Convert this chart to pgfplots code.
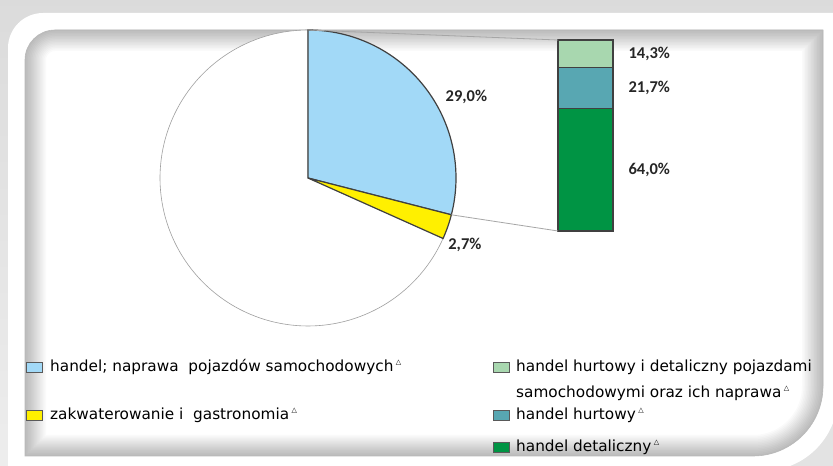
\documentclass[border=0pt]{standalone}
\usepackage{pgfplots}
\pgfplotsset{compat=1.18}
\usepackage{fontspec}
\setmainfont{Carlito}
\newfontfamily\legfont{DejaVu Sans}
\definecolor{pieblue}{HTML}{A2D9F7}
\definecolor{pieyel}{HTML}{FFF000}
\definecolor{lgreen}{HTML}{A8D7AF}
\definecolor{teal2}{HTML}{58A7B2}
\definecolor{dgreen}{HTML}{009444}
\definecolor{lblcol}{HTML}{262626}
% data (percent)
\def\vBlue{29.0}
\def\vYel{2.7}
\def\vLG{14.3}
\def\vTeal{21.7}
\def\vDG{64.0}
\pgfmathsetmacro\bang{\vBlue*3.6}
\pgfmathsetmacro\yang{(\vBlue+\vYel)*3.6}
\newcommand{\tri}{\raisebox{0.8ex}{\fontsize{7}{7}\selectfont\legfont △}}
\newcommand{\legbox}[3]{\fill[#1,draw=black!65,line width=0.7pt] (#2pt,#3pt) rectangle ++(16pt,10pt);}
\newcommand{\panel}{(25pt,10pt) -- (25pt,406pt) arc[start angle=180,end angle=90,radius=30pt] -- (823pt,436pt) -- (823pt,80pt) arc[start angle=0,end angle=-90,radius=70pt] -- cycle}
\begin{document}
\begin{tikzpicture}
\useasboundingbox (0,0) rectangle (833pt,466pt);
% background and frame
\shade[top color=gray!28, bottom color=gray!14] (0,0) rectangle (833pt,466pt);
\fill[gray!22] (845pt,90pt) -- (845pt,-10pt) -- (745pt,-10pt) arc[start angle=-90,end angle=0,radius=100pt];
\fill[white] (8pt,-10pt) -- (8pt,418pt) arc[start angle=180,end angle=90,radius=35pt] -- (845pt,453pt) -- (838pt,70pt) arc[start angle=0,end angle=-90,radius=75pt] -- cycle;
\fill[white] \panel;
\begin{scope}
\clip \panel;
\foreach \i in {1,...,14} {\draw[black, opacity=0.018, line width=\i*3pt] \panel;}
\end{scope}
\draw[gray!55, line width=0.6pt] \panel;
% pie
\begin{axis}[
  at={(308pt,288pt)}, anchor=center,
  x=148pt, y=148pt, xmin=-1.2, xmax=1.2, ymin=-1.2, ymax=1.2,
  scale only axis, hide axis, clip=false]
\addplot[fill=white, draw=gray!75, line width=0.6pt, domain=\yang:360, samples=120, variable=\t] ({sin(t)},{cos(t)}) -- (axis cs:0,0) -- cycle;
\addplot[fill=pieblue, draw=black!75, line width=1.2pt, domain=0:\bang, samples=80, variable=\t] ({sin(t)},{cos(t)}) -- (axis cs:0,0) -- cycle;
\addplot[fill=pieyel, draw=black!75, line width=1.2pt, domain=\bang:\yang, samples=20, variable=\t] ({sin(t)},{cos(t)}) -- (axis cs:0,0) -- cycle;
\coordinate (ptop) at (axis cs:0,1);
\coordinate (pb) at (axis cs:{sin(\bang)},{cos(\bang)});
\node[font=\fontsize{16.5}{16.5}\selectfont\bfseries, text=lblcol] at (axis cs:1.07,0.55) {29,0\%};
\node[font=\fontsize{16.5}{16.5}\selectfont\bfseries, text=lblcol] at (axis cs:1.06,-0.45) {2,7\%};
\end{axis}
% bar of pie
\begin{axis}[
  at={(558pt,235pt)}, anchor=south west,
  width=55pt, height=191pt, scale only axis,
  xmin=-0.5, xmax=0.5, ymin=0, ymax=100,
  ybar stacked, bar width=55pt, hide axis, clip=false]
\addplot[fill=dgreen, draw=black!75, line width=1.1pt] coordinates {(0,\vDG)};
\addplot[fill=teal2, draw=black!75, line width=1.1pt] coordinates {(0,\vTeal)};
\addplot[fill=lgreen, draw=black!75, line width=1.1pt] coordinates {(0,\vLG)};
\coordinate (btop) at (rel axis cs:0,1);
\coordinate (bbot) at (rel axis cs:0,0);
\node[anchor=west, font=\fontsize{16.5}{16.5}\selectfont\bfseries, text=lblcol] at ([xshift=12pt]rel axis cs:1,0.32) {64,0\%};
\node[anchor=west, font=\fontsize{16.5}{16.5}\selectfont\bfseries, text=lblcol] at ([xshift=12pt]rel axis cs:1,0.751) {21,7\%};
\node[anchor=west, font=\fontsize{16.5}{16.5}\selectfont\bfseries, text=lblcol] at ([xshift=12pt]rel axis cs:1,0.928) {14,3\%};
\end{axis}
\draw[gray!70, line width=0.8pt] (ptop) -- (btop);
\draw[gray!70, line width=0.8pt] (pb) -- (bbot);
% legend
\legbox{pieblue}{26}{94}
\legbox{pieyel}{26}{46}
\legbox{lgreen}{493}{94}
\legbox{teal2}{493}{46}
\legbox{dgreen}{493}{14}
\begin{scope}[every node/.style={anchor=west, inner sep=0pt, font=\legfont\fontsize{15.3}{17}\selectfont}]
\node at (50pt,99pt) {handel; naprawa\ \ pojazdów samochodowych\,\tri};
\node at (50pt,51pt) {zakwaterowanie i\ \ gastronomia\,\tri};
\node at (516pt,99pt) {handel hurtowy i detaliczny pojazdami};
\node at (516pt,73pt) {samochodowymi oraz ich naprawa\,\tri};
\node at (516pt,51pt) {handel hurtowy\,\tri};
\node at (516pt,19pt) {handel detaliczny\,\tri};
\end{scope}
\end{tikzpicture}
\end{document}
